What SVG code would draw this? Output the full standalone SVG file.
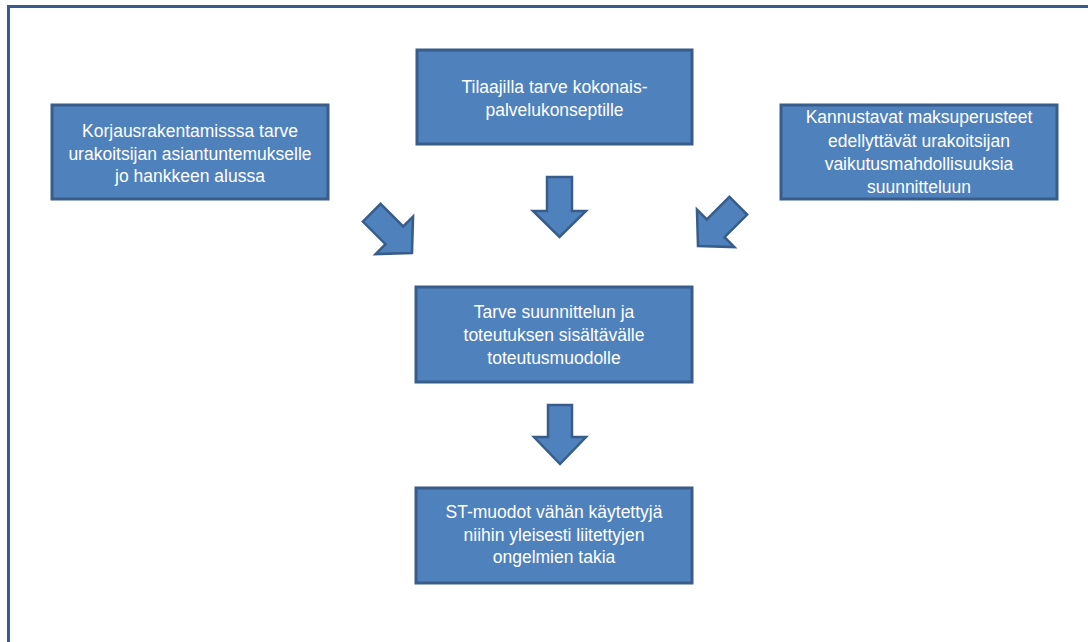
<svg xmlns="http://www.w3.org/2000/svg" width="1088" height="642" viewBox="0 0 1088 642">
<style>
.box{fill:#4F81BD;stroke:#385D8A;stroke-width:3}
.arr{fill:#4F81BD;stroke:#385D8A;stroke-width:2.5;stroke-linejoin:miter}
.t{font-family:"Liberation Sans",Arial,sans-serif;font-size:17.5px;fill:#FFFFFF;text-anchor:middle}
</style>
<defs>
<path id="dia" d="M-12.5,-57 H12.5 V-25 H26.5 L0,0 L-26.5,-25 H-12.5 Z"/>
</defs>
<rect width="1088" height="642" fill="#FFFFFF"/>
<rect x="8.5" y="6.5" width="1200" height="700" fill="none" stroke="#385D8A" stroke-width="3"/>
<g id="connectors">
<path class="arr" d="M547,177 H572 V211 H586 L559.5,237 L533,211 H547 Z"/>
<path class="arr" d="M548,405 H572 V437 H586 L560,464 L534,437 H548 Z"/>
<use class="arr" href="#dia" transform="translate(412,253) rotate(-45)"/>
<use class="arr" href="#dia" transform="translate(698,246) rotate(45)"/>
</g>
<g id="n-left">
<rect class="box" x="52" y="105" width="276" height="94"/>
<text class="t"><tspan x="190" y="137">Korjausrakentamisssa tarve</tspan><tspan x="190" y="159.5">urakoitsijan asiantuntemukselle</tspan><tspan x="190" y="182">jo hankkeen alussa</tspan></text>
</g>
<g id="n-top">
<rect class="box" x="417" y="50" width="275" height="94"/>
<text class="t"><tspan x="554.5" y="93">Tilaajilla tarve kokonais-</tspan><tspan x="554.5" y="115.5">palvelukonseptille</tspan></text>
</g>
<g id="n-right">
<rect class="box" x="781" y="105" width="276" height="94"/>
<text class="t"><tspan x="919" y="123">Kannustavat maksuperusteet</tspan><tspan x="919" y="146.5">edellyttävät urakoitsijan</tspan><tspan x="919" y="170">vaikutusmahdollisuuksia</tspan><tspan x="919" y="193">suunnitteluun</tspan></text>
</g>
<g id="n-mid">
<rect class="box" x="416" y="287" width="276" height="95"/>
<text class="t"><tspan x="554" y="318">Tarve suunnittelun ja</tspan><tspan x="554" y="341">toteutuksen sisältävälle</tspan><tspan x="554" y="364">toteutusmuodolle</tspan></text>
</g>
<g id="n-bottom">
<rect class="box" x="416" y="488" width="276" height="95"/>
<text class="t"><tspan x="554" y="518">ST-muodot vähän käytettyjä</tspan><tspan x="554" y="540.5">niihin yleisesti liitettyjen</tspan><tspan x="554" y="563">ongelmien takia</tspan></text>
</g>
</svg>
